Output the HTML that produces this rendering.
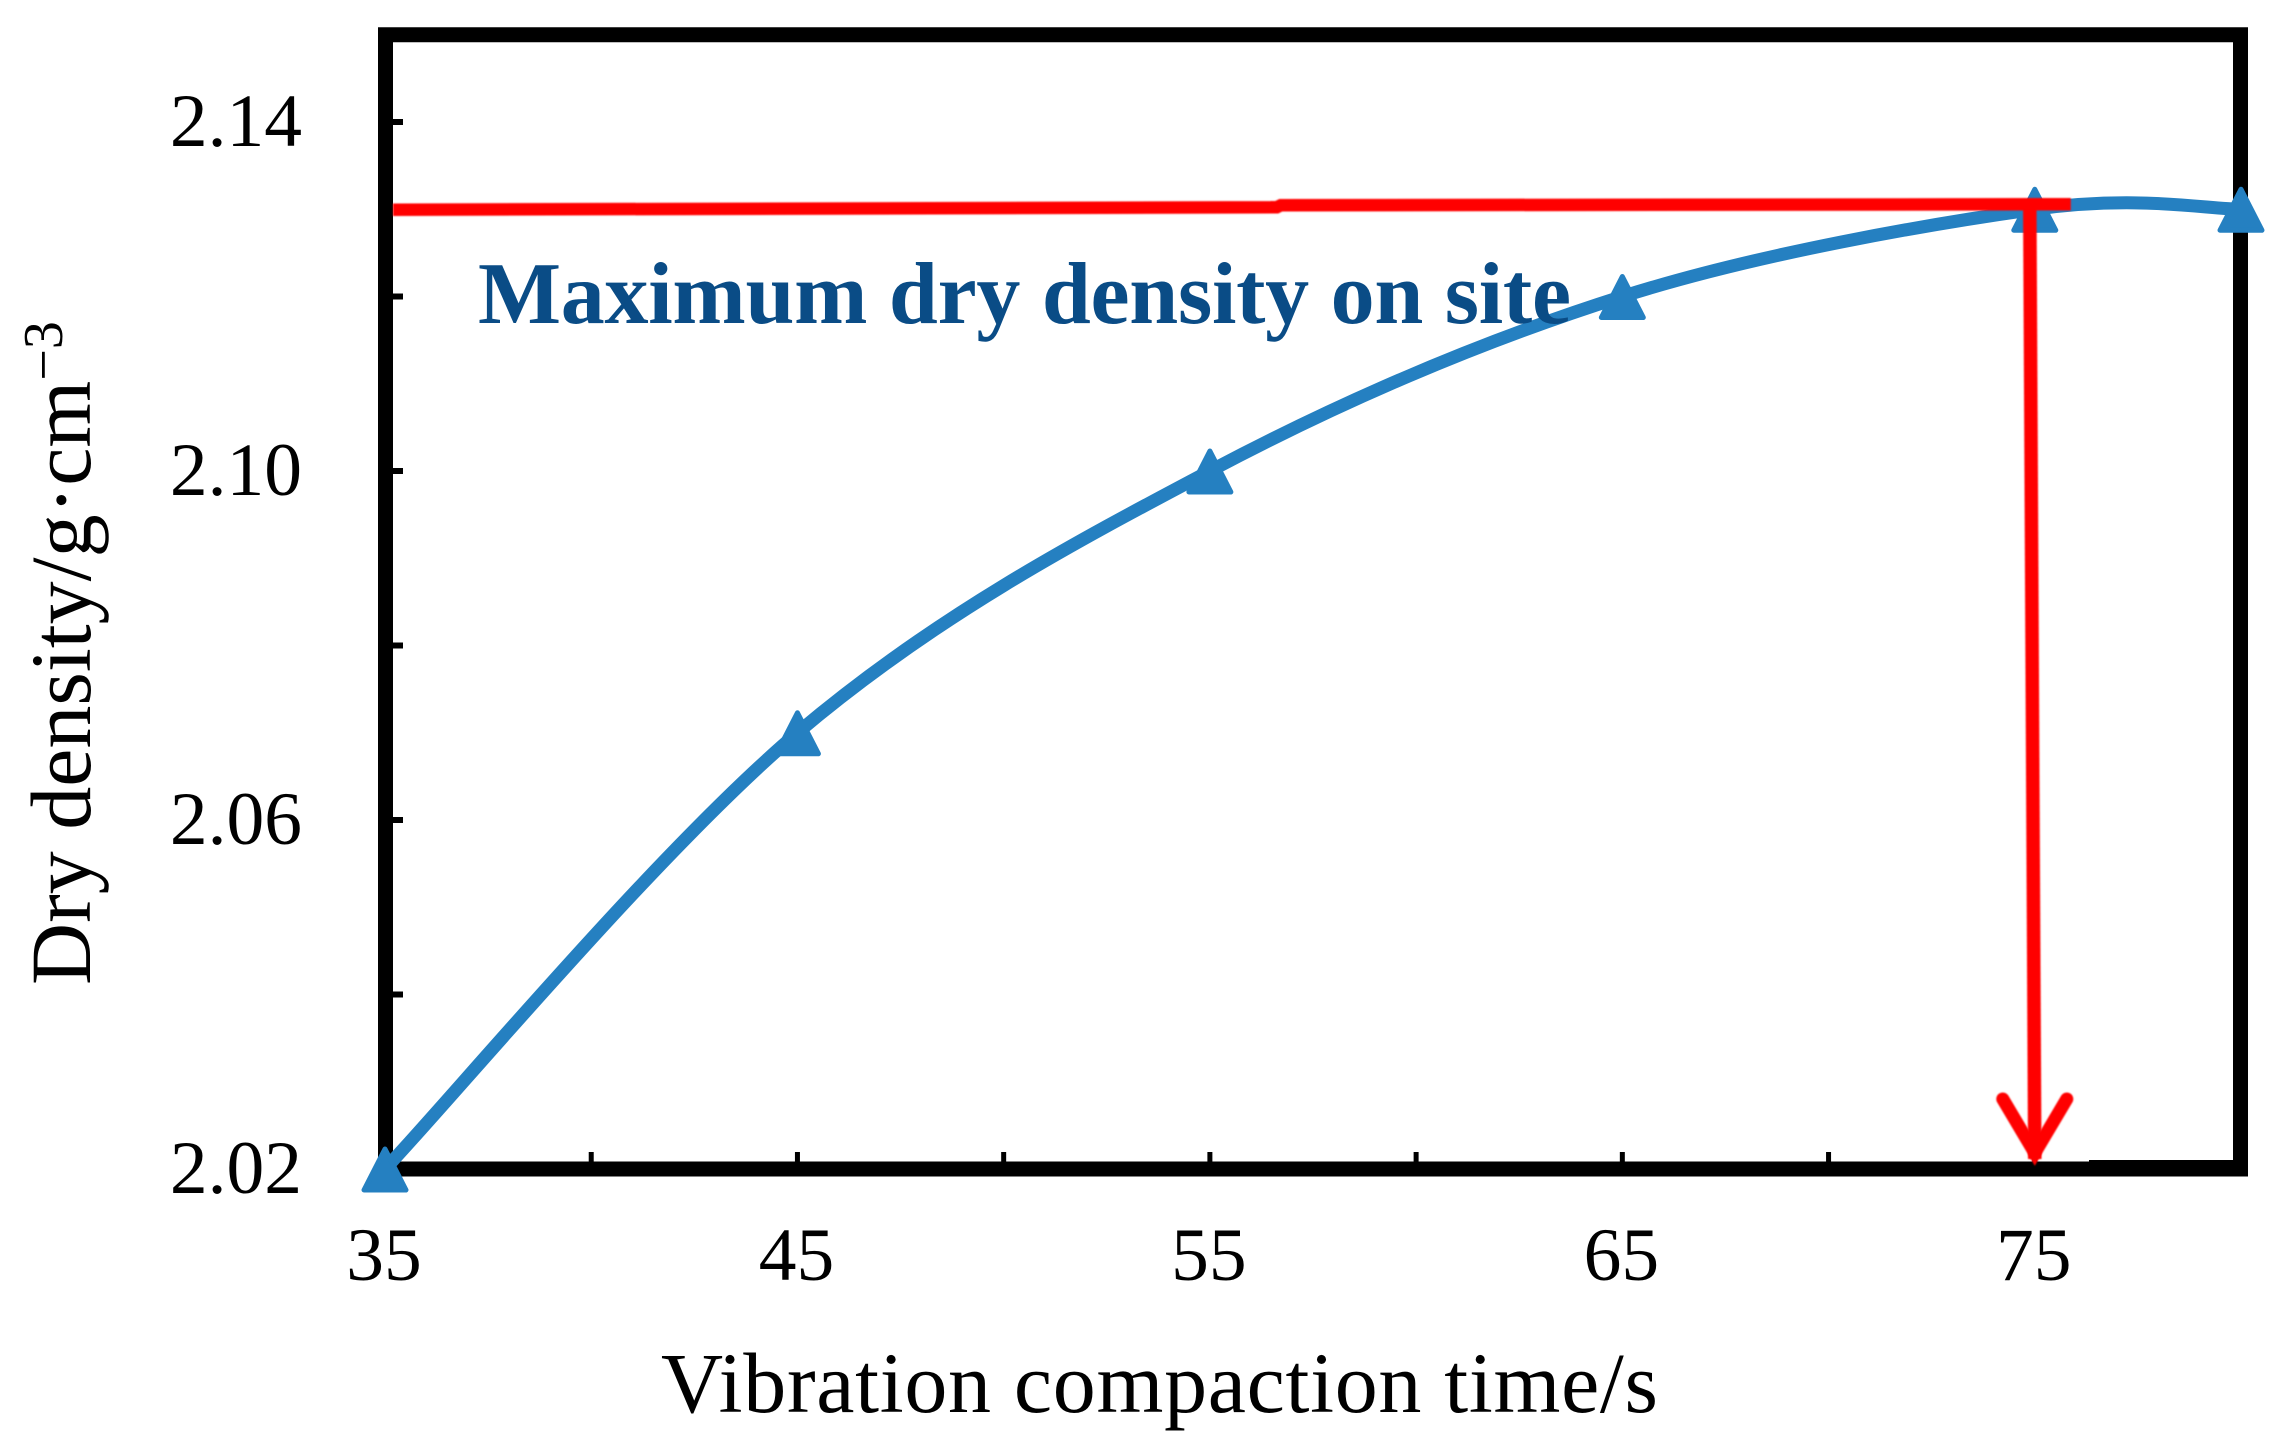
<!DOCTYPE html>
<html lang="en">
<head>
<meta charset="utf-8">
<title>Dry density vs vibration compaction time</title>
<style>
html,body{margin:0;padding:0;background:#fff;width:2270px;height:1446px;overflow:hidden}
svg{display:block;font-family:"Liberation Serif",serif}
</style>
</head>
<body>
<svg id="chart" xmlns="http://www.w3.org/2000/svg" width="2270" height="1446" viewBox="0 0 2270 1446">
  <defs>
    <filter id="soft" filterUnits="userSpaceOnUse" x="0" y="0" width="2270" height="1446"><feGaussianBlur stdDeviation="0.9"/></filter>
  </defs>
  <rect x="0" y="0" width="2270" height="1446" fill="#fff"/>
  <g id="ticks"></g>
  <g id="frame"></g>
  <g id="series"></g>
  <g id="annotations"></g>
  <g id="labels"></g>
  <text x="478" y="323" font-size="88" font-weight="bold" fill="#0a4c86" textLength="1093" lengthAdjust="spacing">Maximum dry density on site</text>
  <text x="661" y="1412" font-size="86" fill="#000" textLength="997" lengthAdjust="spacing">Vibration compaction time/s</text>
  <text transform="translate(90,985) rotate(-90)" font-size="86" fill="#000">Dry density/g·cm<tspan font-size="56" dy="-28">−3</tspan></text>
</svg>
<script>
const times = [35, 45, 55, 65, 75, 80];
const densities = [2.02, 2.07, 2.10, 2.12, 2.13, 2.13];
const xTickLabels = [35, 45, 55, 65, 75];
const yTickLabels = [2.02, 2.06, 2.10, 2.14];
const xMinorTicks = [40, 45, 50, 55, 60, 65, 70, 75];
const yMinorTicks = [2.04, 2.06, 2.08, 2.10, 2.12, 2.14];
const targetDensity = 2.13;
const targetTime = 75;

const NS = 'http://www.w3.org/2000/svg';
function xScale(v){ return 385 + (v - 35) * (2241 - 385) / (80 - 35); }
function yScale(v){ return 1169 - (v - 2.02) * (1169 - 122) / (2.14 - 2.02); }
function make(tag, attrs, parent){
  const el = document.createElementNS(NS, tag);
  Object.keys(attrs).forEach(k => el.setAttribute(k, attrs[k]));
  parent.appendChild(el);
  return el;
}

/* frame */
const frame = document.getElementById('frame');
const frameLeft = xScale(35) + 0.5, frameRight = xScale(80) - 0.5, frameTop = yScale(2.15), frameBottom = yScale(2.02);
const frameRect = make('path', {d:`M${frameLeft} ${frameBottom}V${frameTop}H${frameRight}V${frameBottom}H${frameLeft}Z`, fill:'none', stroke:'#000', 'stroke-width':15}, frame);


const frameThick = make('rect', {x:2089, y:frameBottom - 9, width:frameRight - 2089, height:4, fill:'#000'}, frame);



/* ticks */
const ticks = document.getElementById('ticks');
xMinorTicks.forEach(v => {
  const t = make('line', {x1:xScale(v), x2:xScale(v), y1:frameBottom - 17, y2:frameBottom, stroke:'#000', 'stroke-width':5}, ticks);
  
  
});
yMinorTicks.forEach(v => {
  const t = make('line', {x1:xScale(35), x2:xScale(35) + 18, y1:yScale(v), y2:yScale(v), stroke:'#000', 'stroke-width':6}, ticks);
  
  
});

/* series: smoothed curve through the data points */
const series = document.getElementById('series');
const pts = times.map((t, i) => [xScale(t), yScale(densities[i])]);
let d = `M${pts[0][0]} ${pts[0][1]}`;
for (let i = 0; i < pts.length - 1; i++) {
  const p0 = pts[Math.max(i - 1, 0)], p1 = pts[i], p2 = pts[i + 1], p3 = pts[Math.min(i + 2, pts.length - 1)];
  const c1 = [p1[0] + (p2[0] - p0[0]) / 6, p1[1] + (p2[1] - p0[1]) / 6];
  const c2 = [p2[0] - (p3[0] - p1[0]) / 6, p2[1] - (p3[1] - p1[1]) / 6];
  d += `C${c1[0]} ${c1[1]} ${c2[0]} ${c2[1]} ${p2[0]} ${p2[1]}`;
}
const curve = make('path', {d:d, fill:'none', stroke:'#2580c1', 'stroke-width':13, 'stroke-linecap':'round'}, series);


pts.forEach(p => {
  const m = make('polygon', {points:`${p[0]},${p[1] - 20} ${p[0] + 21},${p[1] + 21} ${p[0] - 21},${p[1] + 21}`, fill:'#2580c1', stroke:'#2580c1', 'stroke-width':5, 'stroke-linejoin':'round'}, series);
  
  
});

/* red guide lines */
const ann = document.getElementById('annotations');
const gx = xScale(targetTime), gy = yScale(targetDensity);
const hLine = make('path', {d:`M393 ${gy + 0.5}L${gx - 758} ${gy - 2}L${gx - 754} ${gy - 4}L${gx + 36} ${gy - 5}`, fill:'none', stroke:'#ff0000', 'stroke-width':12.5, filter:'url(#soft)'}, ann);


const vLine = make('path', {d:`M${gx - 5} ${gy - 4}L${gx} ${frameBottom - 10}`, fill:'none', stroke:'#ff0000', 'stroke-width':13.5, filter:'url(#soft)'}, ann);


const head = make('path', {d:`M${gx - 32} ${frameBottom - 70}L${gx} ${frameBottom - 16}L${gx + 32} ${frameBottom - 70}`, fill:'none', stroke:'#ff0000', 'stroke-width':13, 'stroke-linecap':'round', 'stroke-linejoin':'miter', filter:'url(#soft)'}, ann);



/* tick labels */
const labels = document.getElementById('labels');
xTickLabels.forEach(v => {
  const t = make('text', {x:xScale(v) - 1, y:1280, 'font-size':75.5, 'text-anchor':'middle', fill:'#000'}, labels);
  
  
  t.textContent = String(v);
});
yTickLabels.forEach(v => {
  const t = make('text', {x:302, y:yScale(v) + 24, 'font-size':75.5, 'text-anchor':'end', fill:'#000'}, labels);
  
  
  t.textContent = v.toFixed(2);
});
</script>
</body>
</html>
